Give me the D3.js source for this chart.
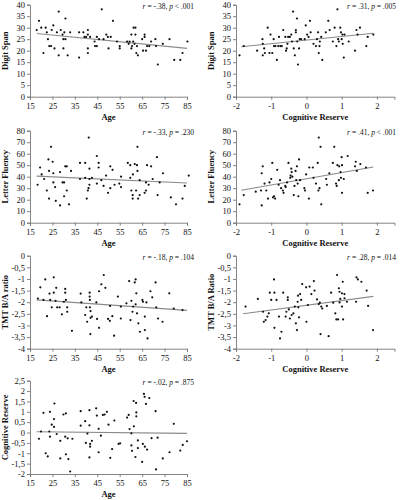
<!DOCTYPE html>
<html><head><meta charset="utf-8">
<script src="https://cdn.jsdelivr.net/npm/d3@7"></script>
<style>
body{margin:0;background:#fff}
svg{display:block}
text{font-family:"Liberation Serif","Times New Roman",serif;fill:#111}
</style>
</head><body>
<svg id="chart" width="402" height="500"></svg>
<script>
// ---------- tick labels ----------
const ageTicks = [15, 25, 35, 45, 55, 65, 75, 85];
const crTicks = [-2, -1, 0, 1, 2];
const digitSpanTicks = [0, 5, 10, 15, 20, 25, 30, 35, 40];
const fluencyTicks = [0, 10, 20, 30, 40, 50, 60, 70, 80];
const tmtTicks = [-4, -3.5, -3, -2.5, -2, -1.5, -1, -0.5, 0];
const crYTicks = [-2, -1.5, -1, -0.5, 0, 0.5, 1, 1.5, 2, 2.5];

// ---------- axis titles ----------
const xTitles = ["Age", "Cognitive Reserve", "Age", "Cognitive Reserve", "Age", "Cognitive Reserve", "Age"];
const yTitles = ["Digit Span", "Digit Span", "Letter Fluency", "Letter Fluency", "TMT B/A ratio", "TMT B/A Ratio", "Cognitive Reserve"];

// ---------- statistics ----------
const rValues = ["-.38", ".31", "-.33", ".41", "-.18", ".28", "-.02"];
const pValues = ["< .001", "= .005", "= .230", "< .001", "= .104", "= .014", "= .875"];

// ---------- fitted lines (x1, y1, x2, y2) ----------
const fitAgeDigitSpan = [18, 27.5, 85, 21];
const fitCrDigitSpan = [-1.85, 21.7, 1.9, 27.6];
const fitAgeFluency = [18, 40.5, 85, 34.5];
const fitCrFluency = [-1.85, 28.2, 1.9, 48.5];
const fitAgeTmt = [18, -1.9, 85, -2.35];
const fitCrTmt = [-1.8, -2.5, 1.9, -1.75];
const fitAgeCr = [18, 0.04, 85, -0.04];

// ---------- data points (x, y) ----------
const ageDigitSpan = [[18,29],[19,33],[20,30],[21,19],[22,30],[22.5,28],[23,25],[23.6,22],[24.4,22],[24.7,29],[25.4,31],[25.9,21],[27,28],[27.8,37],[27.8,18],[28.7,29],[29.5,27],[29.9,25],[29.9,21],[30.3,28],[30.8,34],[30.8,25],[31.8,18],[32.9,28],[36.9,17],[36.9,28],[38.8,28],[39.3,26],[40,26],[40.8,29],[40.8,27],[40.8,21],[40.8,19],[41.8,26],[43.8,24],[44,22],[44.8,26],[44.8,22],[45.8,25],[47,38],[47.8,25],[49,27],[49.7,26],[50,21],[51,26],[52,33],[53.8,24],[55,22],[55,21],[58.3,24],[59,23],[59.4,24],[60.2,27],[60.2,21],[60.5,22],[61,24],[61.2,30],[61.6,23],[62,27],[62,30],[62.4,19],[62.7,22],[63.1,18],[65,25],[65.4,20],[66.1,27],[66.1,26],[66.7,20],[67.2,22],[68.2,22],[69,24],[70.9,25],[71.2,22],[72,14],[74.2,23],[77.2,25],[79.3,16],[82,16],[83,19],[85.2,24]];
const crDigitSpan = [[-1.9,18],[-1.78,22],[-1.4,20],[-1.25,25],[-1.24,23],[-1.24,18],[-1.2,21],[-1.18,19],[-1.1,30],[-1.05,19],[-1.02,27],[-0.97,19],[-0.93,25],[-0.92,22],[-0.88,22],[-0.84,16],[-0.8,22],[-0.78,26],[-0.74,22],[-0.7,22],[-0.66,29],[-0.6,26],[-0.58,20],[-0.56,21],[-0.54,23],[-0.52,26],[-0.47,26],[-0.43,27],[-0.41,24],[-0.38,37],[-0.36,21],[-0.33,18],[-0.3,28],[-0.3,29],[-0.27,34],[-0.26,24],[-0.24,14],[-0.21,21],[-0.19,25],[-0.15,25],[-0.05,25],[-0.02,31],[0.02,27],[0.06,26],[0.1,33],[0.12,28],[0.2,23],[0.27,22],[0.3,25],[0.33,28],[0.35,19],[0.37,22],[0.38,24],[0.42,26],[0.45,16],[0.55,28],[0.62,33],[0.66,29],[0.75,24],[0.8,30],[0.85,22],[0.88,38],[0.9,25],[0.92,24],[0.96,30],[0.98,28],[1.0,25],[1.02,27],[1.03,23],[1.06,17],[1.08,27],[1.2,24],[1.38,20],[1.42,29],[1.45,27],[1.52,30],[1.7,22],[1.74,26],[1.9,27]];
const ageFluency = [[18.4,33],[19.5,48],[20.2,42],[21.3,38],[22.5,28],[23.2,55],[23.5,45],[23.5,21],[24.4,66],[25.1,53],[25.4,43],[25.4,35],[26.2,31],[26.5,19],[28.4,44],[28.4,15],[29.5,35],[30.2,35],[30.2,23],[30.7,49],[31.4,49],[31.4,28],[32.4,16],[33.3,45],[37.3,52],[37.3,38],[39.6,52],[39.6,39],[40.3,21],[40.8,28],[41.1,30],[41.2,74],[41.5,47],[41.5,38],[41.5,33],[42.6,39],[44.8,58],[44.8,34],[45.6,52],[45.6,48],[46.8,37],[47.8,32],[48.9,41],[49.8,26],[50.8,49],[50.8,30],[51.8,46],[52.7,33],[54.8,34],[55.6,40],[55.6,31],[58.6,52],[59.7,50],[59.7,39],[60.2,28],[60.8,21],[60.8,24],[60.9,42],[61.7,51],[62.3,28],[62.7,50],[62.9,66],[62.9,45],[63.2,21],[63.9,37],[63.9,24],[66.1,26],[66.7,28],[66.7,35],[67.2,50],[67.9,33],[69,49],[69.7,38],[71.6,57],[71.9,24],[72.8,35],[74.3,43],[77.8,22],[80.1,16],[83,21],[84,32],[85.8,41]];
const crFluency = [[-1.9,16],[-1.78,24],[-1.44,27],[-1.29,28],[-1.27,43],[-1.24,49],[-1.27,15],[-1.19,34],[-1.14,28],[-1.09,21],[-1.05,35],[-1.0,38],[-0.97,52],[-0.95,22],[-0.92,23],[-0.89,21],[-0.83,46],[-0.79,33],[-0.75,37],[-0.72,30],[-0.67,28],[-0.65,26],[-0.6,32],[-0.59,31],[-0.55,35],[-0.51,52],[-0.46,39],[-0.45,41],[-0.43,47],[-0.42,44],[-0.4,40],[-0.36,24],[-0.34,32],[-0.31,45],[-0.29,37],[-0.27,49],[-0.25,34],[-0.23,23],[-0.21,55],[-0.18,37],[-0.06,30],[-0.04,28],[-0.01,42],[0.07,21],[0.08,48],[0.18,48],[0.2,39],[0.27,34],[0.32,52],[0.34,28],[0.35,74],[0.37,30],[0.4,66],[0.42,16],[0.56,38],[0.58,33],[0.65,43],[0.75,52],[0.79,66],[0.84,34],[0.86,32],[0.88,50],[0.92,37],[0.93,49],[0.97,44],[0.98,39],[1.0,57],[1.01,50],[1.01,26],[1.06,38],[1.17,58],[1.38,49],[1.4,53],[1.43,45],[1.53,51],[1.69,48],[1.74,26],[1.89,28]];
const ageTmt = [[18.5,-1.84],[19.6,-1.36],[21,-1.9],[21.8,-1.02],[22.6,-2.6],[23.7,-1.63],[24,-1.9],[24.7,-2.22],[25.6,-0.93],[25.6,-1.59],[26.4,-1.94],[26.7,-1.38],[27.1,-2.22],[28.2,-2.22],[29.2,-2.52],[30.1,-1.98],[30.7,-1.43],[30.7,-1.59],[31,-1.9],[31.6,-2.22],[31.6,-2.41],[33.7,-3.23],[37.6,-1.63],[37.9,-2.01],[39.6,-2.55],[40.1,-2.22],[40.5,-2.84],[41.6,-1.59],[41.6,-1.76],[41.7,-1.9],[41.7,-2.22],[42,-2.38],[42,-2.67],[41.9,-3.37],[42.6,-2.62],[44.6,-2.01],[44.9,-2.72],[45.8,-3.1],[45.8,-1.53],[46.8,-1.23],[47.9,-0.83],[48.6,-1.38],[49.8,-2.72],[50.6,-2.8],[50.7,-2.16],[51.7,-2.6],[52.5,-3.44],[54.2,-1.76],[55.5,-2.7],[55.5,-2.19],[58,-2.05],[59.2,-1.09],[59.8,-2.77],[60.2,-1.94],[60.7,-2.41],[61,-2.19],[61.7,-1.15],[62.1,-2.09],[62.1,-1.02],[62.4,-1.62],[62.7,-2.48],[63.3,-2.91],[64,-3.27],[65.1,-1.9],[65.4,-1.98],[66.2,-2.62],[66.2,-3.2],[66.9,-2.01],[67.4,-3.56],[68.7,-1.53],[69.5,-1.79],[71,-1.15],[71.3,-2.22],[72.1,-2.7],[74.1,-2.84],[77.1,-1.62],[79.1,-2.27],[83,-2.34]];
const crTmt = [[-1.73,-2.19],[-1.38,-1.86],[-1.23,-2.41],[-1.21,-2.84],[-1.16,-2.77],[-1.11,-2.62],[-1.07,-2.48],[-1.04,-1.59],[-1.0,-1.9],[-0.92,-1.02],[-0.91,-1.59],[-0.91,-3.1],[-0.85,-1.9],[-0.78,-2.62],[-0.75,-3.56],[-0.71,-3.27],[-0.66,-1.59],[-0.59,-2.62],[-0.57,-2.41],[-0.53,-1.79],[-0.53,-1.9],[-0.5,-2.31],[-0.47,-2.7],[-0.42,-2.55],[-0.37,-2.48],[-0.33,-2.19],[-0.3,-2.91],[-0.27,-3.2],[-0.25,-1.98],[-0.23,-2.22],[-0.24,-1.72],[-0.21,-2.65],[-0.18,-1.65],[-0.15,-1.9],[-0.12,-1.22],[-0.01,-1.36],[0,-2.84],[0.04,-2.12],[0.09,-1.33],[0.14,-1.65],[0.21,-1.09],[0.23,-1.5],[0.3,-1.88],[0.35,-2.08],[0.38,-2.02],[0.4,-3.37],[0.42,-2.19],[0.45,-2.27],[0.58,-2.16],[0.63,-3.46],[0.7,-1.59],[0.76,-2.02],[0.82,-2.48],[0.85,-2.74],[0.87,-0.83],[0.9,-2.74],[0.92,-1.4],[0.94,-2.01],[0.96,-1.86],[0.94,-1.55],[1.01,-1.62],[1.01,-2.19],[1.03,-1.12],[1.04,-2.74],[1.08,-1.65],[1.08,-1.83],[1.15,-1.98],[1.42,-0.93],[1.46,-1.02],[1.41,-1.98],[1.56,-1.12],[1.71,-1.5],[1.75,-2.16],[1.89,-3.2]];
const ageCr = [[19,-0.3],[19.9,0.05],[21,0.95],[22,-1.0],[22.9,-1.15],[23.6,0.05],[23.9,-0.2],[23.9,1.0],[24.7,0.38],[25.7,0.27],[25.7,0.65],[25.9,1.4],[26.9,-0.07],[28.5,-0.4],[28.5,-1.25],[29.9,0.87],[30.7,-0.2],[31,0.92],[31,-1.05],[31.8,-0.28],[32.1,-1.28],[32.9,-1.88],[33.9,-0.3],[37.6,0.33],[37.6,1.03],[39.6,0.55],[39.9,-0.5],[40.6,-0.05],[41.5,1.08],[41.5,0.35],[41.5,-1.2],[41.8,-0.55],[41.8,-0.68],[42.6,-0.4],[44.5,1.17],[44.8,0.82],[45.6,-0.95],[45.6,0.18],[46.6,-0.15],[47.5,0.85],[48.3,0.87],[49.3,1.0],[50,0.38],[50.8,-1.22],[51.6,-0.8],[52.6,0.58],[54.5,-0.55],[55.2,-0.52],[58.3,0.72],[59,0.85],[59.4,0.17],[60.2,-0.04],[60.2,-0.62],[60.5,-0.88],[61.2,1.52],[61.3,0.3],[62,-1.18],[62.3,1.43],[62.4,0.97],[62.4,0.78],[63.1,-0.75],[63.1,-0.38],[65,-1.42],[65.3,-0.55],[65.8,1.86],[66.1,1.72],[66.2,-0.68],[66.7,1.38],[67.2,-0.82],[68.2,1.66],[69.2,-0.27],[71,1.03],[71.2,-1.78],[71.9,-0.25],[74.2,-1.25],[77.2,-0.95],[79.1,0.42],[82,-0.87],[83.1,-0.6],[85,-0.42]];

// ---------- panel definitions ----------
const panels = [
  {data: ageDigitSpan, fit: fitAgeDigitSpan, col: 0, row: 0, yDomain: [0, 40], yTicks: digitSpanTicks},
  {data: crDigitSpan, fit: fitCrDigitSpan, col: 1, row: 0, yDomain: [0, 40], yTicks: digitSpanTicks},
  {data: ageFluency, fit: fitAgeFluency, col: 0, row: 1, yDomain: [0, 80], yTicks: fluencyTicks},
  {data: crFluency, fit: fitCrFluency, col: 1, row: 1, yDomain: [0, 80], yTicks: fluencyTicks},
  {data: ageTmt, fit: fitAgeTmt, col: 0, row: 2, yDomain: [-4, 0], yTicks: tmtTicks},
  {data: crTmt, fit: fitCrTmt, col: 1, row: 2, yDomain: [-4, 0], yTicks: tmtTicks},
  {data: ageCr, fit: fitAgeCr, col: 0, row: 3, yDomain: [-2, 2.5], yTicks: crYTicks}
];

const colRange = [[30, 187], [236, 394.5]];
const rowRange = [[4.7, 96.7], [130.7, 222.7], [255.7, 348.7], [380.7, 474]];
const xDomains = [[15, 85], [-2, 2.5]];
const xTickSets = [ageTicks, crTicks];

const svg = d3.select("#chart");
const fmt = v => String(v).replace(".", ",");

panels.forEach((p, i) => {
  const [x0, x1] = colRange[p.col];
  const [yTop, yBot] = rowRange[p.row];
  const x = d3.scaleLinear().domain(xDomains[p.col]).range([x0, x1]);
  const y = d3.scaleLinear().domain(p.yDomain).range([yBot, yTop]);
  const g = svg.append("g");

  // y axis
  const ya = g.append("g").attr("transform", `translate(${x0},0)`)
    .call(d3.axisLeft(y).tickValues(p.yTicks).tickFormat(fmt).tickSize(3).tickPadding(2));
  // x axis
  const xa = g.append("g").attr("transform", `translate(0,${yBot})`)
    .call(d3.axisBottom(x).tickValues(xTickSets[p.col]).tickFormat(fmt).tickSize(3).tickPadding(3));
  [ya, xa].forEach(a => {
    a.select(".domain").attr("stroke", "#777").attr("stroke-width", 0.9);
    a.selectAll(".tick line").attr("stroke", "#777").attr("stroke-width", 0.9);
    a.selectAll(".tick text").attr("font-size", 8.5).attr("fill", "#222")
      .style("font-family", '"Liberation Serif", serif');
  });
  // remove outer ticks on the domain path via d3 tickSizeOuter default (keep)

  // fit line
  g.append("line")
    .attr("x1", x(p.fit[0])).attr("y1", y(p.fit[1]))
    .attr("x2", x(p.fit[2])).attr("y2", y(p.fit[3]))
    .attr("stroke", "#8a8a8a").attr("stroke-width", 1.1);

  // points
  g.selectAll("circle.pt").data(p.data).join("circle")
    .attr("class", "pt")
    .attr("cx", d => x(d[0])).attr("cy", d => y(d[1]))
    .attr("r", 1.1).attr("fill", "#111");

  // axis titles
  g.append("text")
    .attr("x", (x0 + x1) / 2).attr("y", yBot + 23)
    .attr("text-anchor", "middle").attr("font-size", 8.5).attr("font-weight", "bold")
    .text(xTitles[i]);
  g.append("text")
    .attr("transform", `translate(${x0 - 22},${(yTop + yBot) / 2}) rotate(-90)`)
    .attr("text-anchor", "middle").attr("font-size", 8.5).attr("font-weight", "bold")
    .text(yTitles[i]);

  // stats annotation
  const t = g.append("text")
    .attr("x", p.col === 0 ? 194 : 396).attr("y", yTop + 4.5)
    .attr("text-anchor", "end").attr("font-size", 7.5);
  t.append("tspan").attr("font-style", "italic").text("r");
  t.append("tspan").text(" = " + rValues[i] + ", ");
  t.append("tspan").attr("font-style", "italic").text("p");
  t.append("tspan").text(" " + pValues[i]);
});
</script>
</body></html>
